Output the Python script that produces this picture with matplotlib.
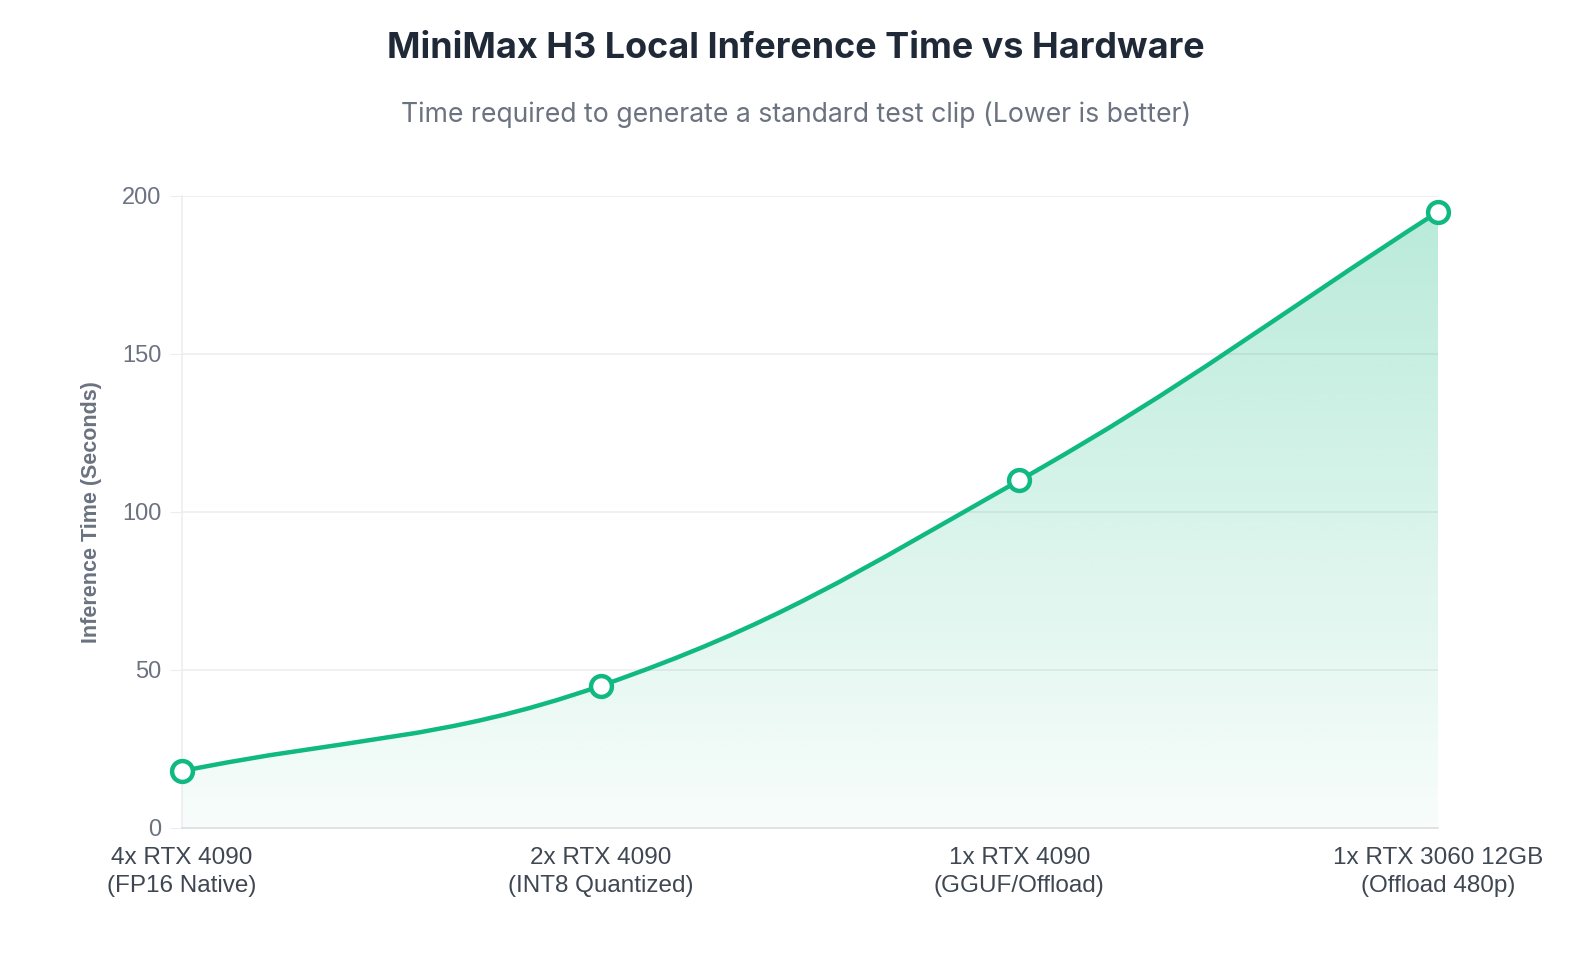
import numpy as np
import matplotlib.pyplot as plt
from matplotlib.path import Path
from matplotlib.patches import PathPatch
from matplotlib.colors import to_rgb

hardware = ["4x RTX 4090\n(FP16 Native)", "2x RTX 4090\n(INT8 Quantized)",
            "1x RTX 4090\n(GGUF/Offload)", "1x RTX 3060 12GB\n(Offload 480p)"]
seconds = [18, 45, 110, 195]
y_ticks = [0, 50, 100, 150, 200]

GREEN = "#10b981"
GRID = "#ebedf0"

fig = plt.figure(figsize=(15.92, 9.58), dpi=100)
ax = fig.add_axes([182 / 1592, 130 / 958, 1256 / 1592, 632 / 958])
x = np.arange(len(seconds))
ax.set_xlim(0, len(seconds) - 1)
ax.set_ylim(0, 200)

# smooth curve like chart.js (tension 0.4), control points in pixel space
pts = ax.transData.transform(np.column_stack([x, seconds]))
t = 0.4
cps = []
for i in range(len(pts)):
    prev = pts[max(i - 1, 0)]
    cur = pts[i]
    nxt = pts[min(i + 1, len(pts) - 1)]
    d01 = np.hypot(*(cur - prev))
    d12 = np.hypot(*(nxt - cur))
    s01 = d01 / (d01 + d12) if d01 + d12 else 0
    s12 = d12 / (d01 + d12) if d01 + d12 else 0
    cps.append((cur - t * s01 * (nxt - prev), cur + t * s12 * (nxt - prev)))

verts = [pts[0]]
codes = [Path.MOVETO]
for i in range(len(pts) - 1):
    verts += [cps[i][1], cps[i + 1][0], pts[i + 1]]
    codes += [Path.CURVE4] * 3
inv = ax.transData.inverted()
verts_d = inv.transform(np.array(verts))

line_path = Path(verts_d, codes)
fill_path = Path(np.vstack([verts_d, [[x[-1], 0], [x[0], 0], verts_d[0]]]),
                 codes + [Path.LINETO, Path.LINETO, Path.CLOSEPOLY])

# gradient fill, strong at top fading to almost nothing at the bottom
rgb = to_rgb(GREEN)
grad = np.zeros((256, 1, 4))
grad[..., 0], grad[..., 1], grad[..., 2] = rgb
grad[:, 0, 3] = np.linspace(0.3, 0.03, 256)
im = ax.imshow(grad, extent=[x[0], x[-1], 0, 200], origin="upper",
               aspect="auto", zorder=1, interpolation="bilinear")
ax.set_xlim(0, len(seconds) - 1)
ax.set_ylim(0, 200)
clip = PathPatch(fill_path, transform=ax.transData, facecolor="none", edgecolor="none")
ax.add_patch(clip)
im.set_clip_path(clip)

ax.add_patch(PathPatch(line_path, facecolor="none", edgecolor=GREEN, lw=3.2,
                       zorder=3, capstyle="round", joinstyle="round"))
ax.plot(x, seconds, linestyle="none", marker="o", markersize=15,
        markerfacecolor="white", markeredgecolor=GREEN, markeredgewidth=3.2,
        zorder=4, clip_on=False)

ax.set_yticks(y_ticks)
ax.set_xticks(x)
ax.set_xticklabels(hardware, fontfamily="Liberation Sans", fontsize=17.5,
                   color="#3f4753", linespacing=1.35)
ax.tick_params(axis="y", labelsize=17, labelcolor="#6b7280", length=9,
               color=GRID, pad=6)
ax.tick_params(axis="x", length=0, pad=14)
for lab in ax.get_yticklabels():
    lab.set_fontfamily("Liberation Sans")
ax.grid(axis="y", color=GRID, lw=1.2)
ax.set_axisbelow(True)
for side in ["top", "right"]:
    ax.spines[side].set_visible(False)
ax.spines["left"].set_color(GRID)
ax.spines["left"].set_linewidth(1.2)
ax.spines["bottom"].set_color("#dcdfe3")
ax.spines["bottom"].set_linewidth(1.2)

ax.set_ylabel("Inference Time (Seconds)", fontfamily="Liberation Sans",
              fontsize=15.5, fontweight="bold", color="#6b7280", labelpad=14)

fig.text(0.5, 1 - 48 / 958, "MiniMax H3 Local Inference Time vs Hardware",
         ha="center", va="center", fontfamily="Inter", fontweight="bold",
         fontsize=25.9, color="#1f2937")
fig.text(0.5, 1 - 115 / 958, "Time required to generate a standard test clip (Lower is better)",
         ha="center", va="center", fontfamily="Inter", fontsize=19.2, color="#6b7280")

fig.savefig("out.png", dpi=100, facecolor="white")
